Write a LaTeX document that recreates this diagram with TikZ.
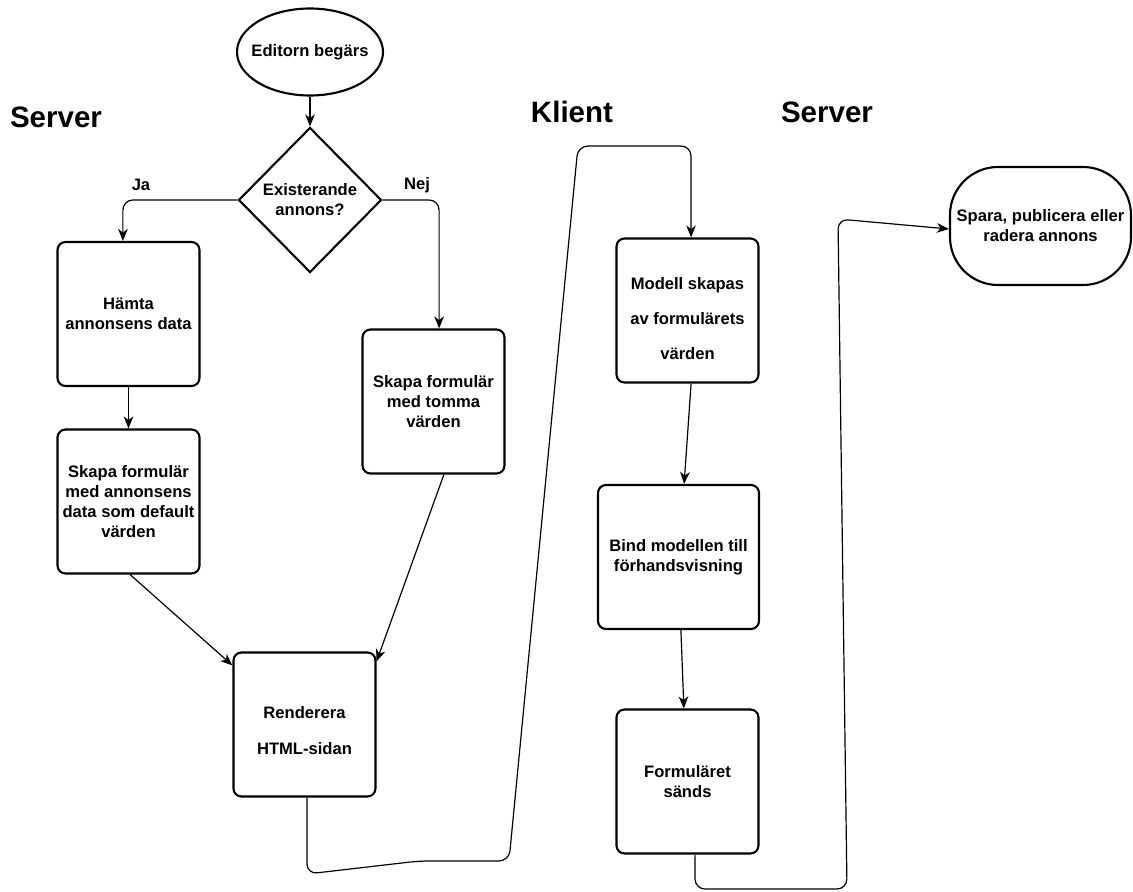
\documentclass[tikz,border=0pt]{standalone}
\usepackage{fontspec}
\setmainfont{Liberation Sans}
\usetikzlibrary{shapes}
\usetikzlibrary{arrows.meta}
\usetikzlibrary{positioning}

\begin{document}
\begin{tikzpicture}[x=0.25mm,y=-0.25mm,
  font=\fontsize{11.8}{14.2}\selectfont\bfseries,
  box/.style={draw,line width=1.5pt,rounded corners=2mm,align=center,minimum width=35.5mm,minimum height=36mm,inner sep=1pt},
  rubrik/.style={font=\fontsize{21}{25}\selectfont\bfseries},
  pil/.style={line width=0.85pt,-{Stealth[length=3mm,width=2.4mm,inset=0.9mm]}},
  linje/.style={pil,rounded corners=2.5mm}]
\useasboundingbox (0,0) rectangle (1133,892);
\node[rubrik] (server1) at (56,117) {Server};
\node[rubrik] (klient) at (572,112) {Klient};
\node[rubrik] (server2) at (827,112) {Server};
\node[draw,ellipse,line width=1.5pt,minimum width=36.5mm,minimum height=21.75mm,label=center:{Editorn begärs}] (editor) at (310,52) {};
\node[draw,diamond,line width=1.5pt,minimum width=35.75mm,minimum height=36.25mm,inner sep=0pt,align=center] (fraga) at (310,200) {Existerande\\annons?};
\node (ja) at (141,185) {Ja};
\node (nej) at (417,185) {Nej};
\node[box] (hamta) at (128.5,314) {Hämta\\annonsens data};
\node[box] (skapa1) at (128.5,501.5) {Skapa formulär\\med annonsens\\data som default\\värden};
\node[box] (skapa2) at (433.5,401.5) {Skapa formulär\\med tomma\\värden};
\node[box] (render) at (304.5,724.5) {\rule{0pt}{6mm}Renderera\\[11pt]HTML-sidan};
\node[box] (modell) at (687.5,310.5) {\rule{0pt}{7mm}Modell skapas\\[10.6pt]av formulärets\\[10.6pt]värden};
\node[box,minimum width=40.25mm] (bind) at (678.5,557) {Bind modellen till\\förhandsvisning};
\node[box] (formular) at (687.5,781.5) {Formuläret\\sänds};
\node[draw,line width=1.5pt,rounded corners=12mm,minimum width=45.25mm,minimum height=29.5mm,align=center,inner sep=0pt] (spara) at (1040.5,226) {Spara, publicera eller\\radera annons};

\coordinate (k1) at (307,874);
\coordinate (k2) at (419,861);
\coordinate (k3) at (509,861);
\coordinate (k4) at (578,146);
\coordinate (k5) at (691,146);
\coordinate (s1) at (695,889);
\coordinate (s2) at (847,889);
\coordinate (s3) at (838,219);

\draw[pil] (editor) -- (fraga);
\draw[linje] (fraga.west) -| ([xshift=-1.4mm]hamta.north);
\draw[linje] (fraga.east) -| ([xshift=1.4mm]skapa2.north);
\draw[pil] (hamta) -- (skapa1);
\draw[pil] ([xshift=0.4mm]skapa1.south) -- ([yshift=-3.5mm]render.north west);
\draw[pil] ([xshift=2.6mm]skapa2.south) -- ([yshift=-2.5mm]render.north east);
\draw[linje] ([xshift=0.6mm]render.south) -- (k1) -- (k2) -- (k3) -- (k4) -- (k5) -- ([xshift=0.9mm]modell.north);
\draw[pil] ([xshift=0.9mm]modell.south) -- ([xshift=1.4mm]bind.north);
\draw[pil] ([xshift=0.6mm]bind.south) -- ([xshift=-0.9mm]formular.north);
\draw[linje] ([xshift=1.9mm]formular.south) -- (s1) -- (s2) -- (s3) -- ([yshift=-0.75mm]spara.west);
\end{tikzpicture}
\end{document}
